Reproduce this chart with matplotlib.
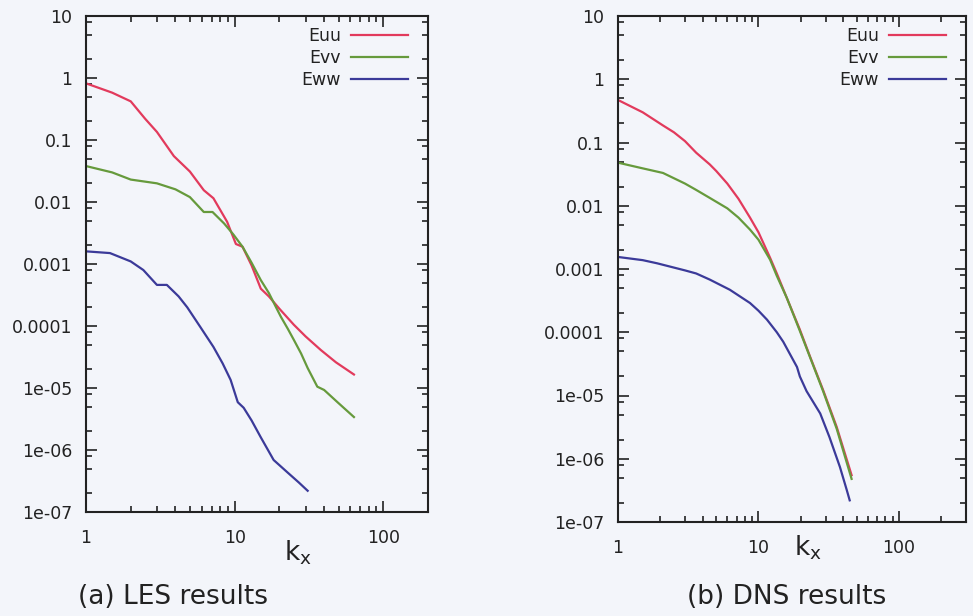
import matplotlib
matplotlib.use("Agg")
import matplotlib.pyplot as plt
from matplotlib.ticker import LogLocator, FixedLocator, FixedFormatter, NullFormatter

# ---------------- data ----------------
les_k_uu = [1, 1.5, 2, 2.5, 3, 3.9, 5, 6.2, 7.2, 8.9, 10.2, 11.3, 13, 15, 17, 20, 25, 30, 38, 48, 63.5]
les_Euu = [0.82, 0.58, 0.42, 0.22, 0.135, 0.055, 0.031, 0.0155, 0.0115, 0.0048, 0.0021, 0.0019,
           0.00095, 0.00040, 0.00030, 0.00019, 0.000105, 0.000068, 0.000041, 0.000026, 0.0000165]

les_k_vv = [1, 1.5, 2, 3, 4, 5, 6.2, 7.1, 8.5, 9.8, 11.3, 13, 15, 17, 19, 20.5, 22.8, 25, 28, 31, 36, 40, 49.6, 63.5]
les_Evv = [0.038, 0.030, 0.023, 0.020, 0.016, 0.012, 0.0069, 0.0069, 0.0045, 0.0030, 0.0019, 0.00105,
           0.00055, 0.00034, 0.00020, 0.000140, 0.000090, 0.000060, 0.000036, 0.000021, 0.0000105,
           0.0000093, 0.0000058, 0.0000034]

les_k_ww = [1, 1.45, 2, 2.43, 3, 3.5, 4.2, 4.8, 5.9, 7.2, 8.3, 9.4, 10.5, 11.5, 13, 15, 18.3, 22.8, 27, 31]
les_Eww = [0.0016, 0.0015, 0.0011, 0.0008, 0.00046, 0.00046, 0.00030, 0.00020, 0.000095, 0.000046,
           0.000025, 0.0000135, 0.0000059, 0.0000048, 0.0000030, 0.0000016, 0.00000069, 0.00000043,
           0.00000030, 0.00000022]

dns_k_uu = [1, 1.5, 2.09, 2.5, 3, 3.6, 4.5, 5, 6, 7.2, 8.7, 10, 12.1, 13.5, 15.9, 19.7, 23.3, 28.8, 36, 46]
dns_Euu = [0.47, 0.30, 0.186, 0.145, 0.105, 0.069, 0.045, 0.0355, 0.0224, 0.0129, 0.0065, 0.0038, 0.0015,
           0.00085, 0.00035, 0.00011, 0.000041, 0.0000123, 0.0000032, 0.00000055]

dns_k_vv = [1, 1.5, 2.09, 3, 3.6, 4.5, 6, 7.2, 8.7, 10, 12.1, 13.5, 15.9, 19.7, 23.3, 28.8, 36, 46]
dns_Evv = [0.048, 0.039, 0.033, 0.0224, 0.0178, 0.0133, 0.0091, 0.0065, 0.0042, 0.0029, 0.0014,
           0.00078, 0.00035, 0.000105, 0.000040, 0.0000118, 0.0000030, 0.00000048]

dns_k_ww = [1, 1.5, 1.9, 3, 3.6, 4.5, 6.25, 8.7, 10, 11.5, 13.5, 15, 18.8, 19.7, 22, 27.5, 32, 38, 42.5, 44.6]
dns_Eww = [0.00155, 0.00138, 0.00123, 0.00095, 0.00085, 0.00068, 0.00047, 0.00029, 0.000219, 0.000158,
           0.000100, 0.0000708, 0.0000282, 0.0000200, 0.0000117, 0.0000052, 0.0000022, 0.00000074,
           0.00000032, 0.00000022]

series_names = ["Euu", "Evv", "Eww"]
y_tick_values = [10, 1, 0.1, 0.01, 0.001, 0.0001, 1e-5, 1e-6, 1e-7]
y_tick_labels = ["10", "1", "0.1", "0.01", "0.001", "0.0001", "1e-05", "1e-06", "1e-07"]
x_tick_values = [1, 10, 100]
x_tick_labels = ["1", "10", "100"]
captions = ["(a) LES results", "(b) DNS results"]

# ---------------- styling ----------------
colors = ["#e23a5c", "#669a3c", "#3b3a99"]
bg = "#f3f5fa"
ink = "#222222"

plt.rcParams['font.family'] = ['DejaVu Sans']
fig = plt.figure(figsize=(9.73, 6.16), dpi=100, facecolor=bg)

W, H = 973.0, 616.0
ax_left = fig.add_axes([86 / W, 1 - 512 / H, 342 / W, 496 / H])
ax_right = fig.add_axes([618 / W, 1 - 522 / H, 348 / W, 506 / H])

panels = [
    (ax_left, [(les_k_uu, les_Euu), (les_k_vv, les_Evv), (les_k_ww, les_Eww)], (1, 200),
     298 / W, 1 - 553 / H, 78 / W),
    (ax_right, [(dns_k_uu, dns_Euu), (dns_k_vv, dns_Evv), (dns_k_ww, dns_Eww)], (1, 300),
     808 / W, 1 - 548 / H, 687 / W),
]

for i, (ax, data, xlim, kx_x, kx_y, cap_x) in enumerate(panels):
    ax.set_facecolor(bg)
    for (k, e), name, c in zip(data, series_names, colors):
        ax.plot(k, e, color=c, lw=1.6, label=name)
    ax.set_xscale("log")
    ax.set_yscale("log")
    ax.set_xlim(*xlim)
    ax.set_ylim(1e-7, 10)
    ax.xaxis.set_major_locator(FixedLocator(x_tick_values))
    ax.xaxis.set_major_formatter(FixedFormatter(x_tick_labels))
    ax.xaxis.set_minor_locator(LogLocator(base=10, subs=[2, 3, 4, 5, 6, 7, 8, 9], numticks=20))
    ax.xaxis.set_minor_formatter(NullFormatter())
    ax.yaxis.set_major_locator(FixedLocator(y_tick_values))
    ax.yaxis.set_major_formatter(FixedFormatter(y_tick_labels))
    ax.yaxis.set_minor_locator(LogLocator(base=10, subs=[2, 5, 8], numticks=20))
    ax.yaxis.set_minor_formatter(NullFormatter())
    ax.tick_params(which="both", direction="in", top=True, right=True, color=ink, width=1.2)
    ax.tick_params(which="major", length=8)
    ax.tick_params(which="minor", length=4.5)
    ax.tick_params(axis="y", which="major", pad=10, labelsize=12.5, labelcolor=ink)
    ax.tick_params(axis="x", which="major", pad=12, labelsize=12.5, labelcolor=ink)
    for s in ax.spines.values():
        s.set_color(ink)
        s.set_linewidth(1.5)

    bb = ax.get_position()
    aw = bb.width * W
    ah = bb.height * H
    ax.legend(loc="upper right", bbox_to_anchor=(1 - 20 / aw, 1 - 11 / ah), borderaxespad=0,
              borderpad=0, markerfirst=False, frameon=False, handlelength=3.3,
              handletextpad=0.55, labelspacing=0.22, fontsize=12.5, labelcolor=ink)

    fig.text(kx_x, kx_y, r"k$_\mathregular{x}$", fontsize=19, color=ink, ha="center", va="center")
    fig.text(cap_x, 1 - 597 / H, captions[i], fontsize=19, color=ink, ha="left", va="center")

fig.savefig("out.png", dpi=100, facecolor=bg)
